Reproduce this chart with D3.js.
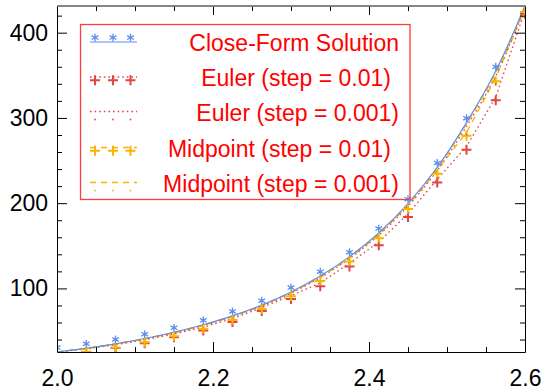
<!DOCTYPE html>
<html>
<head>
<meta charset="utf-8">
<script src="https://cdn.jsdelivr.net/npm/d3@7"></script>
<style>
  body { margin: 0; background: #fff; }
  svg { display: block; }
  text { font-family: "Liberation Sans", Arial, Helvetica, sans-serif; }
</style>
</head>
<body>
<svg id="chart" width="541" height="392"></svg>
<script>
// Sample abscissae shared by every series
const xs = [2.0, 2.0375, 2.075, 2.1125, 2.15, 2.1875, 2.225, 2.2625, 2.3,
            2.3375, 2.375, 2.4125, 2.45, 2.4875, 2.525, 2.5625, 2.6];

// Closed-form solution and the four numerical solutions
const closedForm  = [25.4, 29.8, 35.0, 41.2, 48.6, 57.4, 67.8, 80.4, 95.8,
                     114.5, 137.3, 165.0, 199.5, 242.0, 294.5, 355.0, 431.3];
const euler01     = [25.4, 29.0, 34.0, 39.5, 46.5, 54.5, 64.5, 77.5, 91.5,
                     106.5, 129.5, 154.5, 187.5, 228.0, 266.5, 324.5, 426.0];
const euler001    = [25.4, 29.5, 34.6, 40.7, 48.0, 56.6, 66.9, 79.3, 94.4,
                     112.8, 135.2, 162.5, 196.5, 238.4, 290.0, 349.5, 430.0];
const midpoint01  = [25.4, 29.5, 34.6, 40.6, 47.8, 56.4, 66.8, 79.6, 94.8,
                     112.6, 135.5, 162.8, 197.0, 238.5, 283.0, 347.0, 428.0];
const midpoint001 = [25.4, 29.7, 34.9, 41.0, 48.4, 57.2, 67.5, 80.1, 95.4,
                     114.0, 136.7, 164.2, 198.6, 240.8, 293.0, 353.0, 431.0];

// Axis ranges and ticks
const xDomain = [2.0, 2.6];
const yDomain = [25.4, 431.3];
const xTicks = [2.0, 2.2, 2.4, 2.6];
const xTickLabels = ["2.0", "2.2", "2.4", "2.6"];
const xMinorTicks = [2.05, 2.1, 2.15, 2.25, 2.3, 2.35, 2.45, 2.5, 2.55];
const yTicks = [100, 200, 300, 400];
const yTickLabels = ["100", "200", "300", "400"];
const yMinorTicks = [40, 60, 80, 120, 140, 160, 180, 220, 240, 260, 280, 320, 340, 360, 380, 420];

const legendLabels = ["Close-Form Solution", "Euler (step = 0.01)", "Euler (step = 0.001)",
                      "Midpoint (step = 0.01)", "Midpoint (step = 0.001)"];

const BLUE = "#5b8def", RED = "#e04646", ORANGE = "#f7b500";

const svg = d3.select("#chart");
const plotLeft = 57, plotRight = 525, plotTop = 6, plotBottom = 352;

const x = d3.scaleLinear().domain(xDomain).range([plotLeft, plotRight]);
const y = d3.scaleLinear().domain(yDomain).range([plotBottom, plotTop]);

svg.append("defs").append("clipPath").attr("id", "plotClip")
  .append("rect").attr("x", plotLeft).attr("y", plotTop)
  .attr("width", plotRight - plotLeft).attr("height", plotBottom - plotTop);

// Series styles: line dash, curve, marker glyph
const series = [
  { key: "euler01",     values: euler01,     color: RED,    dash: "1.6,3", width: 1.3, curve: d3.curveLinear,     glyph: "plus" },
  { key: "midpoint01",  values: midpoint01,  color: ORANGE, dash: "6,5",   width: 1.3, curve: d3.curveLinear,     glyph: "plus" },
  { key: "euler001",    values: euler001,    color: RED,    dash: "1.6,3", width: 1.3, curve: d3.curveMonotoneX, glyph: "dot" },
  { key: "midpoint001", values: midpoint001, color: ORANGE, dash: "6,5",   width: 1.3, curve: d3.curveMonotoneX, glyph: "dot" },
  { key: "closed",      values: closedForm,  color: BLUE,   dash: null,    width: 1.2, curve: d3.curveMonotoneX, glyph: "star" }
];

// Glyph drawing helpers (offsets follow the plotting symbol's own anchor)
const starPath = d3.symbol().type(d3.symbolAsterisk).size(42)();
function drawGlyph(g, kind, color, px, py) {
  if (kind === "star") {
    g.append("path").attr("d", starPath)
      .attr("transform", `translate(${px},${py - 4.4})`)
      .attr("fill", "none").attr("stroke", color).attr("stroke-width", 1.3);
  } else if (kind === "plus") {
    g.append("path").attr("d", "M-5,0H5M0,-5V5")
      .attr("transform", `translate(${px},${py + 3.3})`)
      .attr("fill", "none").attr("stroke", color).attr("stroke-width", 2);
  } else if (kind === "dot") {
    g.append("rect").attr("x", px - 0.8).attr("y", py + 7.2)
      .attr("width", 1.6).attr("height", 1.6).attr("fill", color);
  }
}

const plot = svg.append("g").attr("clip-path", "url(#plotClip)");

series.forEach(s => {
  const line = d3.line().x((d, i) => x(xs[i])).y(d => y(d)).curve(s.curve);
  plot.append("path").datum(s.values)
    .attr("d", line)
    .attr("fill", "none")
    .attr("stroke", s.color)
    .attr("stroke-width", s.width)
    .attr("stroke-dasharray", s.dash);
});

series.forEach(s => {
  const g = plot.append("g");
  s.values.forEach((v, i) => drawGlyph(g, s.glyph, s.color, x(xs[i]), y(v)));
});

// Axes: ticks point inward on all four sides
function styleAxis(g) {
  g.select(".domain").remove();
  g.selectAll(".tick line").attr("stroke", "#000").attr("stroke-width", 1);
  g.selectAll("text").attr("fill", "#000").style("font-size", "23px");
}

svg.append("g").attr("transform", `translate(0,${plotBottom})`)
  .call(d3.axisBottom(x).tickValues(xTicks).tickSize(-10).tickPadding(18)
        .tickFormat((d, i) => xTickLabels[i]))
  .call(styleAxis);
svg.append("g").attr("transform", `translate(0,${plotBottom})`)
  .call(d3.axisBottom(x).tickValues(xMinorTicks).tickSize(-5).tickFormat(""))
  .call(styleAxis);
svg.append("g").attr("transform", `translate(0,${plotTop})`)
  .call(d3.axisTop(x).tickValues(xTicks).tickSize(-9).tickFormat(""))
  .call(styleAxis);
svg.append("g").attr("transform", `translate(0,${plotTop})`)
  .call(d3.axisTop(x).tickValues(xMinorTicks).tickSize(-5).tickFormat(""))
  .call(styleAxis);

svg.append("g").attr("transform", `translate(${plotLeft},0)`)
  .call(d3.axisLeft(y).tickValues(yTicks).tickSize(-10).tickPadding(9)
        .tickFormat((d, i) => yTickLabels[i]))
  .call(styleAxis);
svg.append("g").attr("transform", `translate(${plotLeft},0)`)
  .call(d3.axisLeft(y).tickValues(yMinorTicks).tickSize(-5).tickFormat(""))
  .call(styleAxis);
svg.append("g").attr("transform", `translate(${plotRight},0)`)
  .call(d3.axisRight(y).tickValues(yTicks).tickSize(-10).tickFormat(""))
  .call(styleAxis);
svg.append("g").attr("transform", `translate(${plotRight},0)`)
  .call(d3.axisRight(y).tickValues(yMinorTicks).tickSize(-5).tickFormat(""))
  .call(styleAxis);

// Plot frame
svg.append("path")
  .attr("d", `M${plotLeft + 0.5},${plotBottom + 0.5}V${plotTop}H${plotRight + 0.5}V${plotBottom + 0.5}H${plotLeft + 0.5}`)
  .attr("fill", "none").attr("stroke", "#000").attr("stroke-width", 1);
svg.append("line").attr("x1", plotLeft).attr("x2", plotRight + 1).attr("y1", plotTop).attr("y2", plotTop)
  .attr("stroke", "#888").attr("stroke-width", 1.5);

// Legend
const legend = svg.append("g");
legend.append("rect").attr("x", 80.5).attr("y", 24.5).attr("width", 329.5).attr("height", 175)
  .attr("fill", "none").attr("stroke", "#ff3b3b").attr("stroke-width", 1.3);

const legendOrder = [series[4], series[0], series[2], series[1], series[3]];
const rowY = [42, 77, 111.5, 147.5, 182.5];
const textEnd = [399, 391, 399, 391, 399];
const sampleX = [95, 113, 130.5];
legendOrder.forEach((s, r) => {
  const yy = rowY[r];
  legend.append("line").attr("x1", 90).attr("x2", 137).attr("y1", yy).attr("y2", yy)
    .attr("stroke", s.color).attr("stroke-width", s.width)
    .attr("stroke-dasharray", s.dash);
  sampleX.forEach(sx => drawGlyph(legend, s.glyph, s.color, sx, yy));
  legend.append("text")
    .attr("x", textEnd[r]).attr("y", yy + 1)
    .attr("dy", "0.35em")
    .attr("text-anchor", "end")
    .attr("fill", "#ff0000")
    .style("font-size", "23px")
    .text(legendLabels[r]);
});
</script>
</body>
</html>
